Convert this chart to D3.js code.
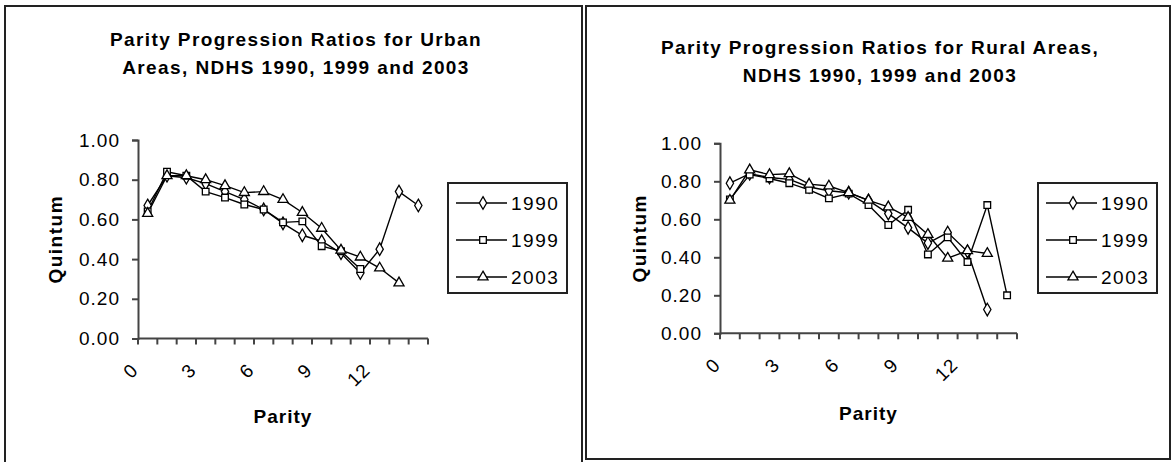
<!DOCTYPE html>
<html>
<head>
<meta charset="utf-8">
<script src="https://cdn.jsdelivr.net/npm/d3@7"></script>
<style>
  body { margin: 0; background: #fff; }
  svg { display: block; }
  text { font-family: "Liberation Sans", Arial, sans-serif; fill: #000; }
</style>
</head>
<body>
<script>
// parity categories on the x axis (0..14), only every third one is labelled
const parity = d3.range(0, 15);
const parityLabels = [0, 3, 6, 9, 12];
const yTicks = [0, 0.2, 0.4, 0.6, 0.8, 1.0];
const years = ["1990", "1999", "2003"];

// urban areas
const urban1990 = [0.67, 0.82, 0.81, 0.78, 0.74, 0.70, 0.65, 0.58, 0.52, 0.49, 0.43, 0.33, 0.45, 0.74, 0.67];
const urban1999 = [0.64, 0.84, 0.82, 0.74, 0.71, 0.675, 0.65, 0.585, 0.59, 0.465, 0.44, 0.35];
const urban2003 = [0.63, 0.82, 0.82, 0.80, 0.77, 0.735, 0.74, 0.70, 0.635, 0.555, 0.445, 0.41, 0.355, 0.28];

// rural areas
const rural1990 = [0.79, 0.84, 0.82, 0.81, 0.77, 0.75, 0.74, 0.70, 0.63, 0.555, 0.475, 0.53, 0.43, 0.125];
const rural1999 = [0.705, 0.835, 0.815, 0.79, 0.755, 0.71, 0.735, 0.675, 0.57, 0.65, 0.415, 0.505, 0.375, 0.675, 0.20];
const rural2003 = [0.70, 0.86, 0.835, 0.84, 0.785, 0.775, 0.74, 0.70, 0.665, 0.61, 0.52, 0.395, 0.435, 0.42];

const width = 1173, height = 462;
const svg = d3.select("body").append("svg")
  .attr("width", width)
  .attr("height", height);

// panel frames
svg.append("rect").attr("x", 5).attr("y", 6).attr("width", 577).attr("height", 470)
  .attr("fill", "none").attr("stroke", "#222").attr("stroke-width", 2);
svg.append("rect").attr("x", 586).attr("y", 6).attr("width", 584).attr("height", 453)
  .attr("fill", "none").attr("stroke", "#222").attr("stroke-width", 2);

// marker shapes for each series
const symbols = [d3.symbolDiamond, d3.symbolSquare, d3.symbolTriangle];
const symbolSizes = [46, 44, 44];

function label(g, txt, x, y, opts) {
  let t = g.append("text")
    .attr("x", x).attr("y", y)
    .attr("text-anchor", opts.anchor || "middle")
    .attr("dy", "0.35em")
    .style("font-size", (opts.size || 19) + "px")
    .style("font-weight", opts.bold ? "bold" : "normal")
    .style("letter-spacing", (opts.ls || 0) + "px")
    .text(txt);
  if (opts.rotate) t.attr("transform", `rotate(${opts.rotate},${x},${y})`);
  return t;
}

function drawPanel(cfg) {
  let g = svg.append("g");

  let x = d3.scaleBand().domain(parity).range([cfg.left, cfg.right]);
  let y = d3.scaleLinear().domain([0, 1]).range([cfg.bottom, cfg.top]);

  // titles
  cfg.title.forEach((line, i) => {
    label(g, line, cfg.titleX, cfg.titleY + i * 28, { bold: true, size: 19, ls: 1.4 });
  });

  // y axis
  let yAxis = g.append("g")
    .attr("transform", `translate(${cfg.left},0)`)
    .call(d3.axisLeft(y).tickValues(yTicks).tickSize(6).tickFormat(""));
  yAxis.select(".domain").attr("stroke", "#444").attr("stroke-width", 2);
  yAxis.selectAll(".tick line").attr("stroke", "#444").attr("stroke-width", 2);
  yTicks.forEach(v => {
    label(g, d3.format(".2f")(v), cfg.left - 18, y(v), { anchor: "end", size: 19, ls: 1 });
  });

  // x axis, ticks between categories
  let edges = parity.map(d => x(d)).concat([cfg.right]);
  g.append("line")
    .attr("x1", cfg.left).attr("x2", cfg.right)
    .attr("y1", cfg.bottom).attr("y2", cfg.bottom)
    .attr("stroke", "#444").attr("stroke-width", 2);
  g.selectAll(".xtick").data(edges).join("line")
    .attr("class", "xtick")
    .attr("x1", d => d).attr("x2", d => d)
    .attr("y1", cfg.bottom).attr("y2", cfg.bottom + 6)
    .attr("stroke", "#444").attr("stroke-width", 2);
  parityLabels.forEach(p => {
    let cx = x(p) + x.bandwidth() / 2 - 13;
    let cy = cfg.bottom + 28;
    label(g, p, cx, cy, { anchor: "end", size: 19, ls: 1, rotate: -45 });
  });

  // axis titles
  label(g, "Parity", (cfg.left + cfg.right) / 2, cfg.xTitleY, { bold: true, size: 19, ls: 1 });
  label(g, "Quintum", cfg.yTitleX, (cfg.top + cfg.bottom) / 2, { bold: true, size: 19, ls: 1.5, rotate: -90 });

  // series
  let line = d3.line()
    .x((d, i) => x(parity[i]) + x.bandwidth() / 2)
    .y(d => y(d));

  cfg.series.forEach((vals, s) => {
    g.append("path")
      .attr("d", line(vals))
      .attr("fill", "none")
      .attr("stroke", "#000")
      .attr("stroke-width", 1.4);
  });
  cfg.series.forEach((vals, s) => {
    g.selectAll(".m" + s).data(vals).join("path")
      .attr("class", "m" + s)
      .attr("d", d3.symbol().type(symbols[s]).size(symbolSizes[s]))
      .attr("transform", (d, i) => `translate(${x(parity[i]) + x.bandwidth() / 2},${y(d)})`)
      .attr("fill", "#fff")
      .attr("stroke", "#000")
      .attr("stroke-width", 1.3);
  });

  // legend
  let lg = g.append("g").attr("transform", `translate(${cfg.legendX},${cfg.legendY})`);
  lg.append("rect")
    .attr("width", 119).attr("height", 110)
    .attr("fill", "#fff").attr("stroke", "#222").attr("stroke-width", 2);
  years.forEach((yr, i) => {
    let ly = 20 + i * 37;
    lg.append("line")
      .attr("x1", 8).attr("x2", 59).attr("y1", ly).attr("y2", ly)
      .attr("stroke", "#000").attr("stroke-width", 1.4);
    lg.append("path")
      .attr("d", d3.symbol().type(symbols[i]).size(symbolSizes[i])())
      .attr("transform", `translate(35,${ly})`)
      .attr("fill", "#fff").attr("stroke", "#000").attr("stroke-width", 1.3);
    label(lg, yr, 63, ly, { anchor: "start", size: 19, ls: 1.5 });
  });
}

drawPanel({
  left: 138, right: 428, top: 140, bottom: 338.5,
  title: ["Parity Progression Ratios for Urban", "Areas, NDHS 1990, 1999 and 2003"],
  titleX: 296, titleY: 39,
  xTitleY: 416, yTitleX: 55,
  legendX: 448, legendY: 183,
  series: [urban1990, urban1999, urban2003]
});

drawPanel({
  left: 720, right: 1017, top: 143.3, bottom: 333.3,
  title: ["Parity Progression Ratios for Rural Areas,", "NDHS 1990, 1999 and 2003"],
  titleX: 880, titleY: 47,
  xTitleY: 413, yTitleX: 639,
  legendX: 1038, legendY: 183,
  series: [rural1990, rural1999, rural2003]
});
</script>
</body>
</html>
